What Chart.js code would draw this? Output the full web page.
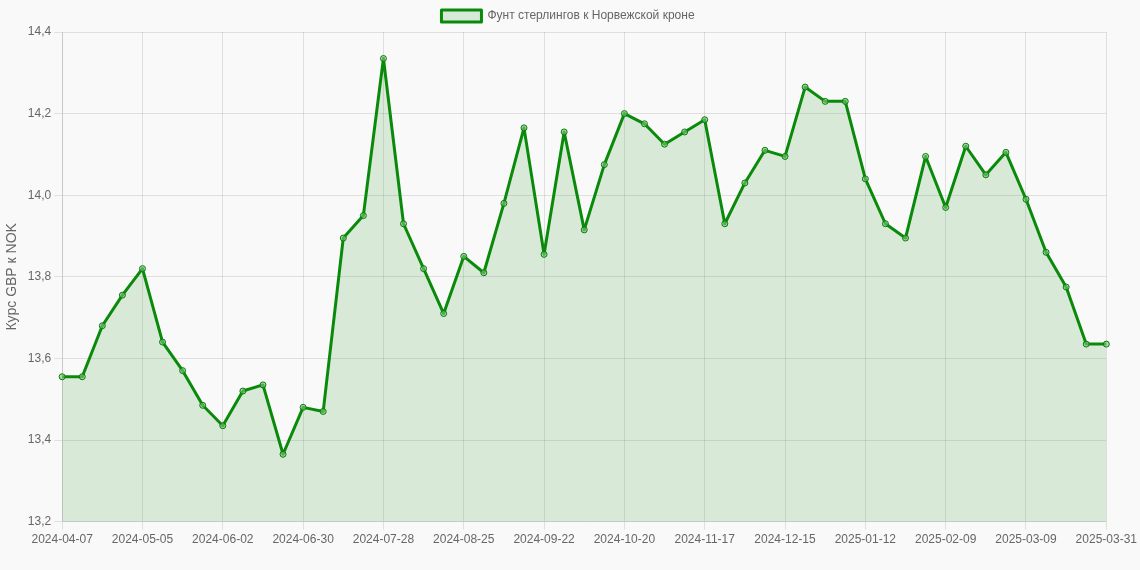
<!DOCTYPE html>
<html><head><meta charset="utf-8">
<script src="https://cdn.jsdelivr.net/npm/chart.js@4"></script>
<style>html,body{margin:0;padding:0;background:#f9f9f9}#w{width:1140px;height:570px}</style>
</head><body><div id="w"><canvas id="c"></canvas></div>
<script>
const labels = ["2024-04-07","2024-04-14","2024-04-21","2024-04-28","2024-05-05","2024-05-12","2024-05-19","2024-05-26","2024-06-02","2024-06-09","2024-06-16","2024-06-23","2024-06-30","2024-07-07","2024-07-14","2024-07-21","2024-07-28","2024-08-04","2024-08-11","2024-08-18","2024-08-25","2024-09-01","2024-09-08","2024-09-15","2024-09-22","2024-09-29","2024-10-06","2024-10-13","2024-10-20","2024-10-27","2024-11-03","2024-11-10","2024-11-17","2024-11-24","2024-12-01","2024-12-08","2024-12-15","2024-12-22","2024-12-29","2025-01-05","2025-01-12","2025-01-19","2025-01-26","2025-02-02","2025-02-09","2025-02-16","2025-02-23","2025-03-02","2025-03-09","2025-03-16","2025-03-23","2025-03-30","2025-03-31"];
const rates = [13.555,13.555,13.68,13.755,13.82,13.64,13.57,13.485,13.435,13.52,13.535,13.365,13.48,13.47,13.895,13.95,14.335,13.93,13.82,13.71,13.85,13.81,13.98,14.165,13.855,14.155,13.915,14.075,14.2,14.175,14.125,14.155,14.185,13.93,14.03,14.11,14.095,14.265,14.23,14.23,14.04,13.93,13.895,14.095,13.97,14.12,14.05,14.105,13.99,13.86,13.775,13.635,13.635];
const seriesName = "Фунт стерлингов к Норвежской кроне";
const yTitle = "Курс GBP к NOK";
Chart.defaults.font.family = "'Liberation Sans', Arial, sans-serif";
Chart.defaults.color = "#666";
const shown = i => i % 4 === 0 || i === labels.length - 1;
new Chart(document.getElementById('c'), {
  type: 'line',
  data: { labels, datasets: [{
    label: seriesName, data: rates, borderColor: '#0a8a0a', backgroundColor: 'rgba(0,128,0,0.13)',
    fill: true, borderWidth: 3, tension: 0, borderJoinStyle: 'round', pointRadius: 3, pointBorderWidth: 1,
    pointBackgroundColor: 'rgba(120,200,120,0.6)', pointBorderColor: '#0a7a0a'
  }]},
  options: {
    responsive: true, maintainAspectRatio: false, animation: false,
    layout: { padding: { right: 4, bottom: 20 } },
    plugins: { legend: { labels: { font: { size: 12 }, boxWidth: 40, boxHeight: 12 } }, tooltip: { enabled: false } },
    scales: {
      x: { grid: { color: c => shown(c.index) ? 'rgba(0,0,0,0.1)' : 'rgba(0,0,0,0)' },
        ticks: { autoSkip: false, maxRotation: 0, font: { size: 12 },
          callback: (v, i) => shown(i) ? labels[i] : '' } },
      y: { min: 13.2, max: 14.4, grid: { color: 'rgba(0,0,0,0.1)' },
        title: { display: true, text: yTitle, font: { size: 14 } },
        ticks: { stepSize: 0.2, font: { size: 12 }, callback: v => v.toFixed(1).replace('.', ',') } }
    }
  }
});
</script></body></html>
